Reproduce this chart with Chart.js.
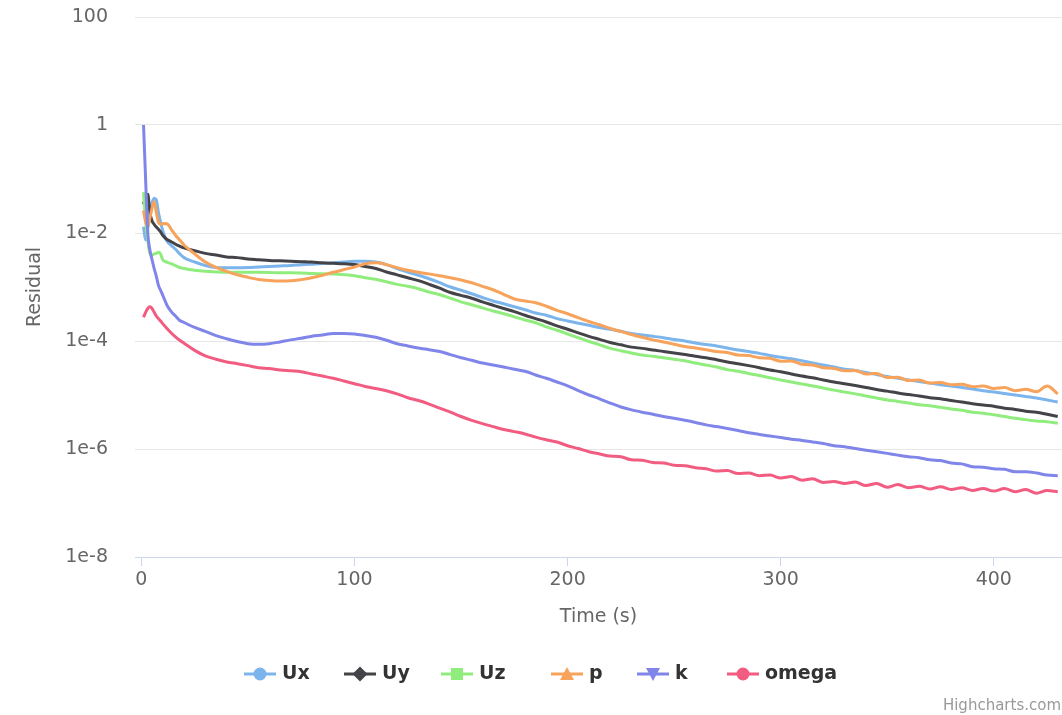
<!DOCTYPE html>
<html>
<head>
<meta charset="utf-8">
<title>Residuals</title>
<script src="https://cdn.jsdelivr.net/npm/chart.js@4.4.1/dist/chart.umd.min.js"></script>
<style>
  html, body { margin: 0; padding: 0; background: #ffffff; }
  #wrap { width: 1062px; height: 715px; position: relative; }
</style>
</head>
<body>
<div id="wrap"><canvas id="residuals" width="1062" height="715"></canvas></div>
<script>
// Solver time (s) at which residuals were sampled
const times = [1, 2, 3, 4, 5, 6, 7, 8, 9, 10, 12, 14, 16, 18, 20,
  25, 30, 35, 40, 45, 50, 55, 60, 65, 70, 75, 80, 85, 90, 95, 100,
  105, 110, 115, 120, 125, 130, 135, 140, 145, 150, 155, 160, 165, 170, 175, 180,
  185, 190, 195, 200, 205, 210, 215, 220, 225, 230, 235, 240, 245, 250, 255, 260,
  265, 270, 275, 280, 285, 290, 295, 300, 305, 310, 315, 320, 325, 330, 335, 340,
  345, 350, 355, 360, 365, 370, 375, 380, 385, 390, 395, 400, 405, 410, 415, 420,
  425, 430];

const ux = [1.3e-2, 7.4e-3, 1.23e-2, 2.4e-2, 3.6e-2, 4.4e-2, 4.1e-2, 2.4e-2, 1.58e-2, 1.12e-2, 7.0e-3, 5.9e-3, 5.0e-3, 4.1e-3, 3.5e-3,
  2.9e-3, 2.5e-3, 2.3e-3, 2.28e-3, 2.28e-3, 2.3e-3, 2.35e-3, 2.4e-3, 2.45e-3, 2.5e-3, 2.58e-3, 2.65e-3, 2.72e-3, 2.8e-3, 2.9e-3, 3.0e-3,
  3.0e-3, 2.9e-3, 2.6e-3, 2.2e-3, 1.9e-3, 1.65e-3, 1.42e-3, 1.2e-3, 1.0e-3, 8.7e-4, 7.5e-4, 6.4e-4, 5.5e-4, 4.9e-4, 4.3e-4, 3.8e-4,
  3.3e-4, 3.0e-4, 2.6e-4, 2.35e-4, 2.14e-4, 1.95e-4, 1.78e-4, 1.65e-4, 1.51e-4, 1.38e-4, 1.29e-4, 1.22e-4, 1.15e-4, 1.07e-4, 1.0e-4, 9.2e-5,
  8.6e-5, 8.1e-5, 7.4e-5, 6.8e-5, 6.4e-5, 5.9e-5, 5.4e-5, 5.0e-5, 4.7e-5, 4.3e-5, 3.9e-5, 3.6e-5, 3.3e-5, 3.0e-5, 2.85e-5, 2.6e-5,
  2.4e-5, 2.2e-5, 2.04e-5, 1.9e-5, 1.78e-5, 1.66e-5, 1.55e-5, 1.47e-5, 1.38e-5, 1.29e-5, 1.2e-5, 1.14e-5, 1.07e-5, 1.0e-5, 9.4e-6, 8.8e-6,
  8.1e-6, 7.4e-6];

const uy = [3.4e-2, 4.8e-2, 5.2e-2, 2.4e-2, 1.66e-2, 1.45e-2, 1.29e-2, 1.17e-2, 1.05e-2, 9.1e-3, 7.6e-3, 6.9e-3, 6.2e-3, 5.7e-3, 5.3e-3,
  4.7e-3, 4.2e-3, 3.9e-3, 3.6e-3, 3.5e-3, 3.3e-3, 3.2e-3, 3.1e-3, 3.05e-3, 3.0e-3, 2.95e-3, 2.9e-3, 2.8e-3, 2.75e-3, 2.7e-3, 2.6e-3,
  2.4e-3, 2.2e-3, 1.9e-3, 1.68e-3, 1.48e-3, 1.31e-3, 1.12e-3, 9.5e-4, 7.9e-4, 7.0e-4, 6.2e-4, 5.3e-4, 4.6e-4, 4.0e-4, 3.5e-4, 3.0e-4,
  2.6e-4, 2.25e-4, 1.9e-4, 1.65e-4, 1.41e-4, 1.22e-4, 1.07e-4, 9.4e-5, 8.5e-5, 7.7e-5, 7.3e-5, 6.8e-5, 6.4e-5, 6.0e-5, 5.6e-5, 5.2e-5,
  4.9e-5, 4.5e-5, 4.1e-5, 3.8e-5, 3.5e-5, 3.2e-5, 2.9e-5, 2.7e-5, 2.45e-5, 2.24e-5, 2.08e-5, 1.9e-5, 1.74e-5, 1.62e-5, 1.5e-5, 1.38e-5,
  1.26e-5, 1.18e-5, 1.09e-5, 1.02e-5, 9.6e-6, 8.9e-6, 8.5e-6, 7.9e-6, 7.4e-6, 6.9e-6, 6.5e-6, 6.2e-6, 5.7e-6, 5.4e-6, 5.0e-6, 4.8e-6,
  4.4e-6, 4.0e-6];

const uz = [5.7e-2, 1.7e-2, 7.4e-3, 4.2e-3, 3.9e-3, 4.1e-3, 4.2e-3, 4.4e-3, 4.1e-3, 3.2e-3, 2.9e-3, 2.7e-3, 2.5e-3, 2.3e-3, 2.2e-3,
  2.04e-3, 1.95e-3, 1.9e-3, 1.87e-3, 1.87e-3, 1.87e-3, 1.87e-3, 1.86e-3, 1.83e-3, 1.83e-3, 1.82e-3, 1.78e-3, 1.76e-3, 1.74e-3, 1.69e-3, 1.62e-3,
  1.48e-3, 1.39e-3, 1.25e-3, 1.12e-3, 1.03e-3, 9.3e-4, 8.1e-4, 7.2e-4, 6.2e-4, 5.3e-4, 4.7e-4, 4.1e-4, 3.6e-4, 3.2e-4, 2.8e-4, 2.45e-4,
  2.18e-4, 1.82e-4, 1.58e-4, 1.35e-4, 1.15e-4, 9.8e-5, 8.5e-5, 7.3e-5, 6.6e-5, 6.0e-5, 5.5e-5, 5.2e-5, 4.9e-5, 4.6e-5, 4.3e-5, 3.9e-5,
  3.6e-5, 3.3e-5, 2.95e-5, 2.75e-5, 2.5e-5, 2.3e-5, 2.08e-5, 1.9e-5, 1.74e-5, 1.6e-5, 1.47e-5, 1.35e-5, 1.23e-5, 1.14e-5, 1.05e-5, 9.6e-6,
  8.8e-6, 8.1e-6, 7.6e-6, 7.1e-6, 6.6e-6, 6.3e-6, 5.9e-6, 5.5e-6, 5.2e-6, 4.8e-6, 4.6e-6, 4.3e-6, 4.0e-6, 3.7e-6, 3.5e-6, 3.3e-6,
  3.2e-6, 3.0e-6];

const p = [2.6e-2, 1.6e-2, 1.3e-2, 1.9e-2, 2.9e-2, 3.8e-2, 2.4e-2, 1.58e-2, 1.45e-2, 1.5e-2, 1.49e-2, 1.17e-2, 9.1e-3, 7.4e-3, 6.0e-3,
  4.1e-3, 2.9e-3, 2.3e-3, 1.95e-3, 1.69e-3, 1.51e-3, 1.38e-3, 1.32e-3, 1.29e-3, 1.3e-3, 1.37e-3, 1.48e-3, 1.65e-3, 1.87e-3, 2.1e-3, 2.35e-3,
  2.7e-3, 2.8e-3, 2.6e-3, 2.28e-3, 2.04e-3, 1.87e-3, 1.75e-3, 1.62e-3, 1.48e-3, 1.35e-3, 1.2e-3, 1.03e-3, 8.9e-4, 7.3e-4, 6.0e-4, 5.5e-4,
  5.1e-4, 4.4e-4, 3.7e-4, 3.2e-4, 2.7e-4, 2.3e-4, 2.0e-4, 1.7e-4, 1.51e-4, 1.32e-4, 1.17e-4, 1.05e-4, 9.6e-5, 8.7e-5, 7.9e-5, 7.4e-5,
  6.9e-5, 6.4e-5, 6.1e-5, 5.5e-5, 5.4e-5, 4.9e-5, 4.8e-5, 4.2e-5, 4.25e-5, 3.7e-5, 3.6e-5, 3.2e-5, 3.1e-5, 2.8e-5, 2.85e-5, 2.45e-5,
  2.5e-5, 2.1e-5, 2.14e-5, 1.85e-5, 1.9e-5, 1.66e-5, 1.7e-5, 1.55e-5, 1.58e-5, 1.42e-5, 1.47e-5, 1.32e-5, 1.37e-5, 1.2e-5, 1.28e-5, 1.15e-5,
  1.47e-5, 1.05e-5];

const k = [1.0, 9.5e-2, 1.0e-2, 4.8e-3, 3.2e-3, 2.2e-3, 1.58e-3, 1.07e-3, 8.7e-4, 7.1e-4, 4.6e-4, 3.5e-4, 2.9e-4, 2.4e-4, 2.2e-4,
  1.78e-4, 1.51e-4, 1.26e-4, 1.1e-4, 9.8e-5, 8.9e-5, 8.7e-5, 8.9e-5, 9.6e-5, 1.05e-4, 1.12e-4, 1.23e-4, 1.29e-4, 1.38e-4, 1.38e-4, 1.35e-4,
  1.26e-4, 1.17e-4, 1.03e-4, 8.9e-5, 8.1e-5, 7.4e-5, 6.9e-5, 6.4e-5, 5.6e-5, 4.9e-5, 4.4e-5, 3.9e-5, 3.6e-5, 3.3e-5, 3.0e-5, 2.75e-5,
  2.35e-5, 2.04e-5, 1.74e-5, 1.48e-5, 1.2e-5, 1.0e-5, 8.5e-6, 7.1e-6, 6.0e-6, 5.3e-6, 4.8e-6, 4.4e-6, 4.0e-6, 3.7e-6, 3.4e-6, 3.1e-6,
  2.8e-6, 2.6e-6, 2.4e-6, 2.2e-6, 2.0e-6, 1.86e-6, 1.74e-6, 1.63e-6, 1.52e-6, 1.44e-6, 1.35e-6, 1.26e-6, 1.15e-6, 1.1e-6, 1.02e-6, 9.5e-7,
  8.9e-7, 8.3e-7, 7.7e-7, 7.2e-7, 6.9e-7, 6.3e-7, 6.1e-7, 5.5e-7, 5.3e-7, 4.7e-7, 4.6e-7, 4.3e-7, 4.2e-7, 3.8e-7, 3.8e-7, 3.6e-7,
  3.3e-7, 3.2e-7];

const omega = [2.75e-4, 3.4e-4, 4.0e-4, 4.3e-4, 4.0e-4, 3.4e-4, 2.9e-4, 2.6e-4, 2.35e-4, 2.1e-4, 1.71e-4, 1.41e-4, 1.19e-4, 1.03e-4, 9.1e-5,
  6.7e-5, 5.3e-5, 4.6e-5, 4.1e-5, 3.8e-5, 3.5e-5, 3.2e-5, 3.1e-5, 2.9e-5, 2.8e-5, 2.7e-5, 2.45e-5, 2.24e-5, 2.04e-5, 1.82e-5, 1.62e-5,
  1.44e-5, 1.32e-5, 1.2e-5, 1.05e-5, 8.9e-6, 7.9e-6, 6.8e-6, 5.7e-6, 4.8e-6, 4.0e-6, 3.4e-6, 2.95e-6, 2.6e-6, 2.3e-6, 2.1e-6, 1.9e-6,
  1.66e-6, 1.48e-6, 1.35e-6, 1.15e-6, 1.02e-6, 8.9e-7, 8.1e-7, 7.4e-7, 7.2e-7, 6.3e-7, 6.2e-7, 5.6e-7, 5.5e-7, 5.0e-7, 4.9e-7, 4.5e-7,
  4.3e-7, 3.9e-7, 4.0e-7, 3.5e-7, 3.6e-7, 3.2e-7, 3.3e-7, 2.9e-7, 3.1e-7, 2.65e-7, 2.8e-7, 2.4e-7, 2.5e-7, 2.3e-7, 2.45e-7, 2.1e-7,
  2.3e-7, 1.95e-7, 2.2e-7, 1.91e-7, 2.04e-7, 1.82e-7, 2.0e-7, 1.78e-7, 1.91e-7, 1.7e-7, 1.86e-7, 1.66e-7, 1.86e-7, 1.62e-7, 1.78e-7, 1.51e-7,
  1.7e-7, 1.62e-7];

const seriesNames = ['Ux', 'Uy', 'Uz', 'p', 'k', 'omega'];
const seriesValues = [ux, uy, uz, p, k, omega];
const seriesColors = ['#7cb5ec', '#434348', '#90ed7d', '#f7a35c', '#8085e9', '#f15c80'];
const seriesMarkers = ['circle', 'diamond', 'square', 'triangle', 'triangleDown', 'circle'];

const yTickValues = [1e-8, 1e-6, 1e-4, 1e-2, 1, 100];
const yTickLabels = ['1e-8', '1e-6', '1e-4', '1e-2', '1', '100'];
const xTickValues = [0, 100, 200, 300, 400];

const FONT = '"DejaVu Sans", "Lucida Grande", Verdana, sans-serif';
Chart.defaults.font.family = FONT;

const datasets = seriesNames.map((name, i) => ({
  label: name,
  data: times.map((t, j) => ({ x: t, y: seriesValues[i][j] })),
  borderColor: seriesColors[i],
  backgroundColor: seriesColors[i],
  borderWidth: 3,
  pointRadius: 0,
  cubicInterpolationMode: 'monotone',
  fill: false,
  order: seriesNames.length - i
}));

function drawMarker(ctx, shape, x, y, color) {
  ctx.fillStyle = color;
  ctx.beginPath();
  if (shape === 'circle') {
    ctx.arc(x, y, 6.5, 0, Math.PI * 2);
  } else if (shape === 'diamond') {
    ctx.moveTo(x, y - 7.5); ctx.lineTo(x + 7.5, y); ctx.lineTo(x, y + 7.5); ctx.lineTo(x - 7.5, y);
  } else if (shape === 'square') {
    ctx.rect(x - 6, y - 6, 12, 12);
  } else if (shape === 'triangle') {
    ctx.moveTo(x, y - 7); ctx.lineTo(x + 7, y + 6); ctx.lineTo(x - 7, y + 6);
  } else if (shape === 'triangleDown') {
    ctx.moveTo(x, y + 7); ctx.lineTo(x + 7, y - 6); ctx.lineTo(x - 7, y - 6);
  }
  ctx.closePath();
  ctx.fill();
}

// Horizontal legend with line-and-marker symbols, plus the credit line
const legendPlugin = {
  id: 'hcLegend',
  afterDraw(chart) {
    const ctx = chart.ctx;
    const starts = [244, 344, 441, 551, 637, 727];
    const ly = 674;
    ctx.save();
    seriesNames.forEach((name, i) => {
      const x0 = starts[i];
      ctx.strokeStyle = seriesColors[i];
      ctx.lineWidth = 3;
      ctx.beginPath();
      ctx.moveTo(x0, ly);
      ctx.lineTo(x0 + 32, ly);
      ctx.stroke();
      drawMarker(ctx, seriesMarkers[i], x0 + 16, ly, seriesColors[i]);
      ctx.fillStyle = '#333333';
      ctx.font = 'bold 19px ' + FONT;
      ctx.textAlign = 'left';
      ctx.textBaseline = 'middle';
      ctx.fillText(name, x0 + 38, ly);
    });
    ctx.fillStyle = '#999999';
    ctx.font = '15px ' + FONT;
    ctx.textAlign = 'right';
    ctx.textBaseline = 'middle';
    ctx.fillText('Highcharts.com', 1061, 706);
    ctx.restore();
  }
};

new Chart(document.getElementById('residuals'), {
  type: 'line',
  data: { datasets },
  plugins: [legendPlugin],
  options: {
    responsive: false,
    animation: false,
    devicePixelRatio: 1,
    layout: { padding: { top: 17, right: 0, bottom: 78, left: 0 } },
    plugins: {
      legend: { display: false },
      tooltip: { enabled: false }
    },
    scales: {
      x: {
        type: 'linear',
        min: -3,
        max: 432,
        afterFit(scale) { scale.height = 80; scale.paddingLeft = 0; scale.paddingRight = 0; },
        afterBuildTicks(scale) { scale.ticks = xTickValues.map(v => ({ value: v })); },
        grid: { drawOnChartArea: false, drawTicks: true, tickLength: 9, color: '#ccd6eb' },
        border: { display: true, color: '#ccd6eb', width: 1 },
        ticks: { color: '#666666', font: { size: 19 }, padding: 3, maxRotation: 0 },
        title: { display: true, text: 'Time (s)', color: '#666666', font: { size: 19 }, padding: { top: 0, bottom: 9 } }
      },
      y: {
        type: 'logarithmic',
        min: 1e-8,
        max: 100,
        afterFit(scale) { scale.width = 135; scale.paddingTop = 0; scale.paddingBottom = 0; },
        afterBuildTicks(scale) { scale.ticks = yTickValues.map(v => ({ value: v })); },
        grid: { color: '#e6e6e6', lineWidth: 1, drawTicks: false },
        border: { display: false },
        ticks: {
          color: '#666666',
          font: { size: 19 },
          padding: 27,
          callback(value) {
            const idx = yTickValues.findIndex(v => Math.abs(Math.log10(v) - Math.log10(value)) < 1e-6);
            return idx >= 0 ? yTickLabels[idx] : '';
          }
        },
        title: { display: true, text: 'Residual', color: '#666666', font: { size: 19 }, padding: { top: 24, bottom: 0 } }
      }
    }
  }
});
</script>
</body>
</html>
